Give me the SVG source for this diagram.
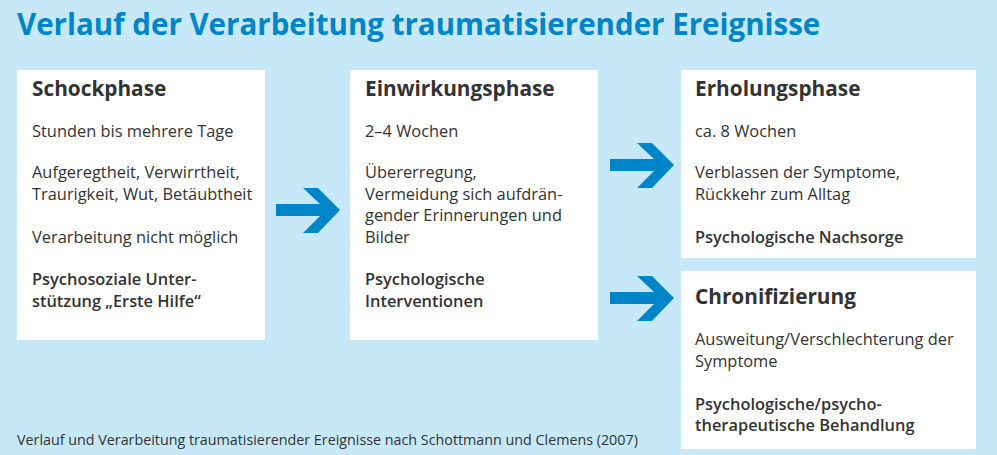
<svg xmlns="http://www.w3.org/2000/svg" width="997" height="455" viewBox="0 0 997 455">
<style>
.b{fill:#fff}
text{font-family:"Open Sans","Liberation Sans",sans-serif;fill:#333;font-size:16.4px}
.h{font-size:20.8px;font-weight:bold}
.s{font-weight:600}
.t{fill:#0085c8;font-size:29.5px;font-weight:bold}
.a{fill:#0085c8}
</style>
<rect width="997" height="455" fill="#c6e8f8"/>
<text class="t" x="17" y="35">Verlauf der Verarbeitung traumatisierender Ereignisse</text>
<g id="n1"><rect class="b" x="17" y="70" width="248" height="270"/>
<text class="h" x="32" y="96">Schockphase</text>
<text x="32" y="137">Stunden bis mehrere Tage</text>
<text x="32" y="178">Aufgeregtheit, Verwirrtheit,</text>
<text x="32" y="200">Traurigkeit, Wut, Betäubtheit</text>
<text x="32" y="243">Verarbeitung nicht möglich</text>
<text class="s" x="32" y="285">Psychosoziale Unter-</text>
<text class="s" x="32" y="307">stützung „Erste Hilfe“</text></g>
<g id="n2"><rect class="b" x="350" y="70" width="248" height="270"/>
<text class="h" x="365" y="96">Einwirkungsphase</text>
<text x="365" y="137">2–4 Wochen</text>
<text x="365" y="178">Übererregung,</text>
<text x="365" y="200">Vermeidung sich aufdrän-</text>
<text x="365" y="221">gender Erinnerungen und</text>
<text x="365" y="243">Bilder</text>
<text class="s" x="365" y="285">Psychologische</text>
<text class="s" x="365" y="307">Interventionen</text></g>
<g id="n3"><rect class="b" x="681" y="70" width="295" height="188"/>
<text class="h" x="695" y="96">Erholungsphase</text>
<text x="695" y="137">ca. 8 Wochen</text>
<text x="695" y="178">Verblassen der Symptome,</text>
<text x="695" y="200">Rückkehr zum Alltag</text>
<text class="s" x="695" y="243">Psychologische Nachsorge</text></g>
<g id="n4"><rect class="b" x="681" y="271" width="295" height="178"/>
<text class="h" x="695" y="304">Chronifizierung</text>
<text x="695" y="345">Ausweitung/Verschlechterung der</text>
<text x="695" y="367">Symptome</text>
<text class="s" x="695" y="410">Psychologische/psycho-</text>
<text class="s" x="695" y="431">therapeutische Behandlung</text></g>
<g id="connectors">
<polygon class="a" points="276,204 320,204 303,188 318,188 340,210 318,233 303,233 320,216 276,216"/>
<polygon class="a" transform="translate(334,-45)" points="276,204 320,204 303,188 318,188 340,210 318,233 303,233 320,216 276,216"/>
<polygon class="a" transform="translate(334,88)" points="276,204 320,204 303,188 318,188 340,210 318,233 303,233 320,216 276,216"/>
</g>
<text x="17" y="445" style="font-size:14.3px">Verlauf und Verarbeitung traumatisierender Ereignisse nach Schottmann und Clemens (2007)</text>
</svg>
